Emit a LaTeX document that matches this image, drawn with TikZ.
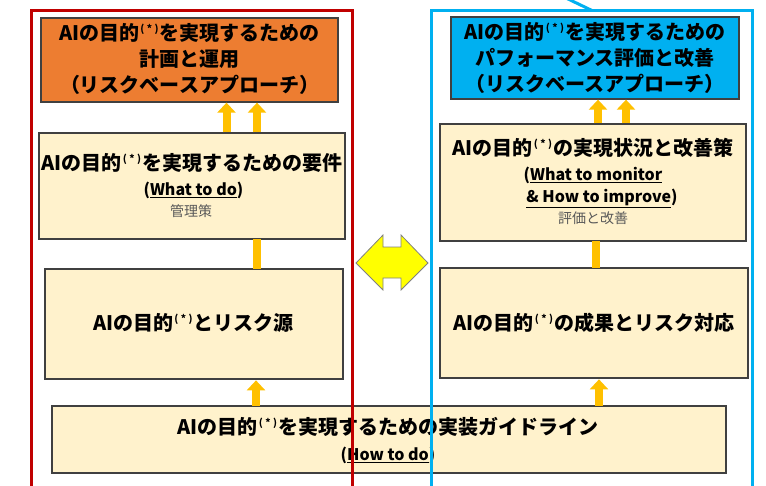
\documentclass[tikz,border=0pt]{standalone}
\usepackage{fontspec}
\setmainfont{Noto Sans CJK JP}
\usetikzlibrary{arrows.meta}
\definecolor{cream}{HTML}{FFF2CC}
\definecolor{orng}{HTML}{ED7D31}
\definecolor{skyb}{HTML}{00B0F0}
\definecolor{gold}{HTML}{FFC000}
\definecolor{redfr}{HTML}{C00000}
\definecolor{boxln}{HTML}{404040}
\definecolor{ylw}{HTML}{FFFF00}
\definecolor{smgray}{HTML}{595959}
\newcommand\jbig{\fontsize{20}{26}\selectfont\bfseries}
\newcommand\jmid{\fontsize{16}{22}\selectfont\bfseries}
\newcommand\jsml{\fontsize{14}{16}\selectfont\mdseries}
\newcommand\aster{\hspace{1pt}\raisebox{0.42em}{\fontsize{10}{10}\selectfont(\hspace{2.5pt}*\hspace{2.5pt})}\hspace{1pt}}
\tikzset{
  box/.style={draw=boxln, line width=1.3pt, fill=cream, inner sep=0pt},
  txt/.style={inner sep=0pt, align=center, text=black},
  smtxt/.style={inner sep=0pt, align=center, text=smgray, font=\jsml},
  upar/.style={draw=gold, line width=8pt, -{Triangle[width=18pt,length=10pt]}},
  bar/.style={draw=gold, line width=8pt},
  frame/.style={line width=3pt}
}
\begin{document}
\begin{tikzpicture}[x=1pt,y=-1pt]
\useasboundingbox (0,0) rectangle (766,485);
\clip (0,0) rectangle (766,485);
\coordinate (la1) at (226.5,135);
\coordinate (la2) at (257,135);
\coordinate (ra1) at (598,126);
\coordinate (ra2) at (626,126);
% boxes
\node[box, fill=orng, minimum width=297pt, minimum height=84pt] (lp) at (189.5,60) {};
\node[box, minimum width=306pt, minimum height=106pt] (lr) at (192,186) {};
\node[box, minimum width=298pt, minimum height=110pt] (ls) at (194,324) {};
\node[box, fill=skyb, minimum width=288pt, minimum height=82pt] (rp) at (595,58) {};
\node[box, minimum width=306pt, minimum height=117pt] (rr) at (593,182.5) {};
\node[box, minimum width=308pt, minimum height=110pt] (rs) at (594,323) {};
\node[box, minimum width=674pt, minimum height=67pt] (g) at (389,439.5) {};
% block arrows between boxes
\draw[upar] (lr.north -| la1) -- (lp.south -| la1);
\draw[upar] (lr.north -| la2) -- (lp.south -| la2);
\draw[upar] (rr.north -| ra1) -- (rp.south -| ra1);
\draw[upar] (rr.north -| ra2) -- (rp.south -| ra2);
\draw[bar] ([yshift=-0.7pt]ls.north -| la2) -- ([yshift=0.7pt]lr.south -| la2);
\coordinate (rm) at (596,250);
\draw[bar] ([yshift=-0.7pt]rs.north -| rm) -- ([yshift=0.7pt]rr.south -| rm);
\coordinate (lb) at (256,400);
\coordinate (rb) at (599,400);
\draw[upar] ([yshift=-0.7pt]g.north -| lb) -- ([yshift=-0.7pt]ls.south -| lb);
\draw[upar] ([yshift=-0.7pt]g.north -| rb) -- ([yshift=-0.7pt]rs.south -| rb);
% texts
\node[txt, font=\jbig] (lpt) at (189.5,59) {AIの目的\aster を実現するための\\計画と運用\\（リスクベースアプローチ）};
\node[txt, font=\jbig] (lrt1) at (192,163) {AIの目的\aster を実現するための要件};
\node[txt, font=\jmid] (lrt2) at (193.5,190) {(\underline{What to do})};
\node[smtxt] (lrt3) at (191,211) {管理策};
\node[txt, font=\jbig] (lst) at (193.5,323) {AIの目的\aster とリスク源};
\node[txt, font=\jbig] (rpt) at (595,58) {AIの目的\aster を実現するための\\パフォーマンス評価と改善\\（リスクベースアプローチ）};
\node[txt, font=\jbig] (rrt1) at (593,148) {AIの目的\aster の実現状況と改善策};
\node[txt, font=\jmid] (rrt2) at (593,175) {(\underline{What to monitor}};
\node[txt, font=\jmid] (rrt3) at (602,198) {\underline{\&\ How to improve})};
\node[smtxt] (rrt4) at (593,218) {評価と改善};
\node[txt, font=\jbig] (rst) at (594,323) {AIの目的\aster の成果とリスク対応};
\node[txt, font=\jbig] (gt1) at (388,427) {AIの目的\aster を実現するための実装ガイドライン};
\node[txt, font=\jmid] (gt2) at (388,455) {(\underline{How to do})};
% double arrow
\draw[draw=black!50, fill=ylw, line width=0.8pt, line join=miter]
  (356,263) -- (383,235) -- (383,247) -- (401,247) -- (401,235) -- (428,263)
  -- (401,290) -- (401,278) -- (383,278) -- (383,290) -- cycle;
% frames
\draw[frame, draw=redfr] (31,10.5) rectangle (352,500);
\draw[frame, draw=skyb] (431,10.5) rectangle (752,500);
\coordinate (cl) at (566,-2);
\coordinate (ct) at (592,10.5);
\draw[frame, draw=skyb] (cl) -- (ct);
\end{tikzpicture}
\end{document}
